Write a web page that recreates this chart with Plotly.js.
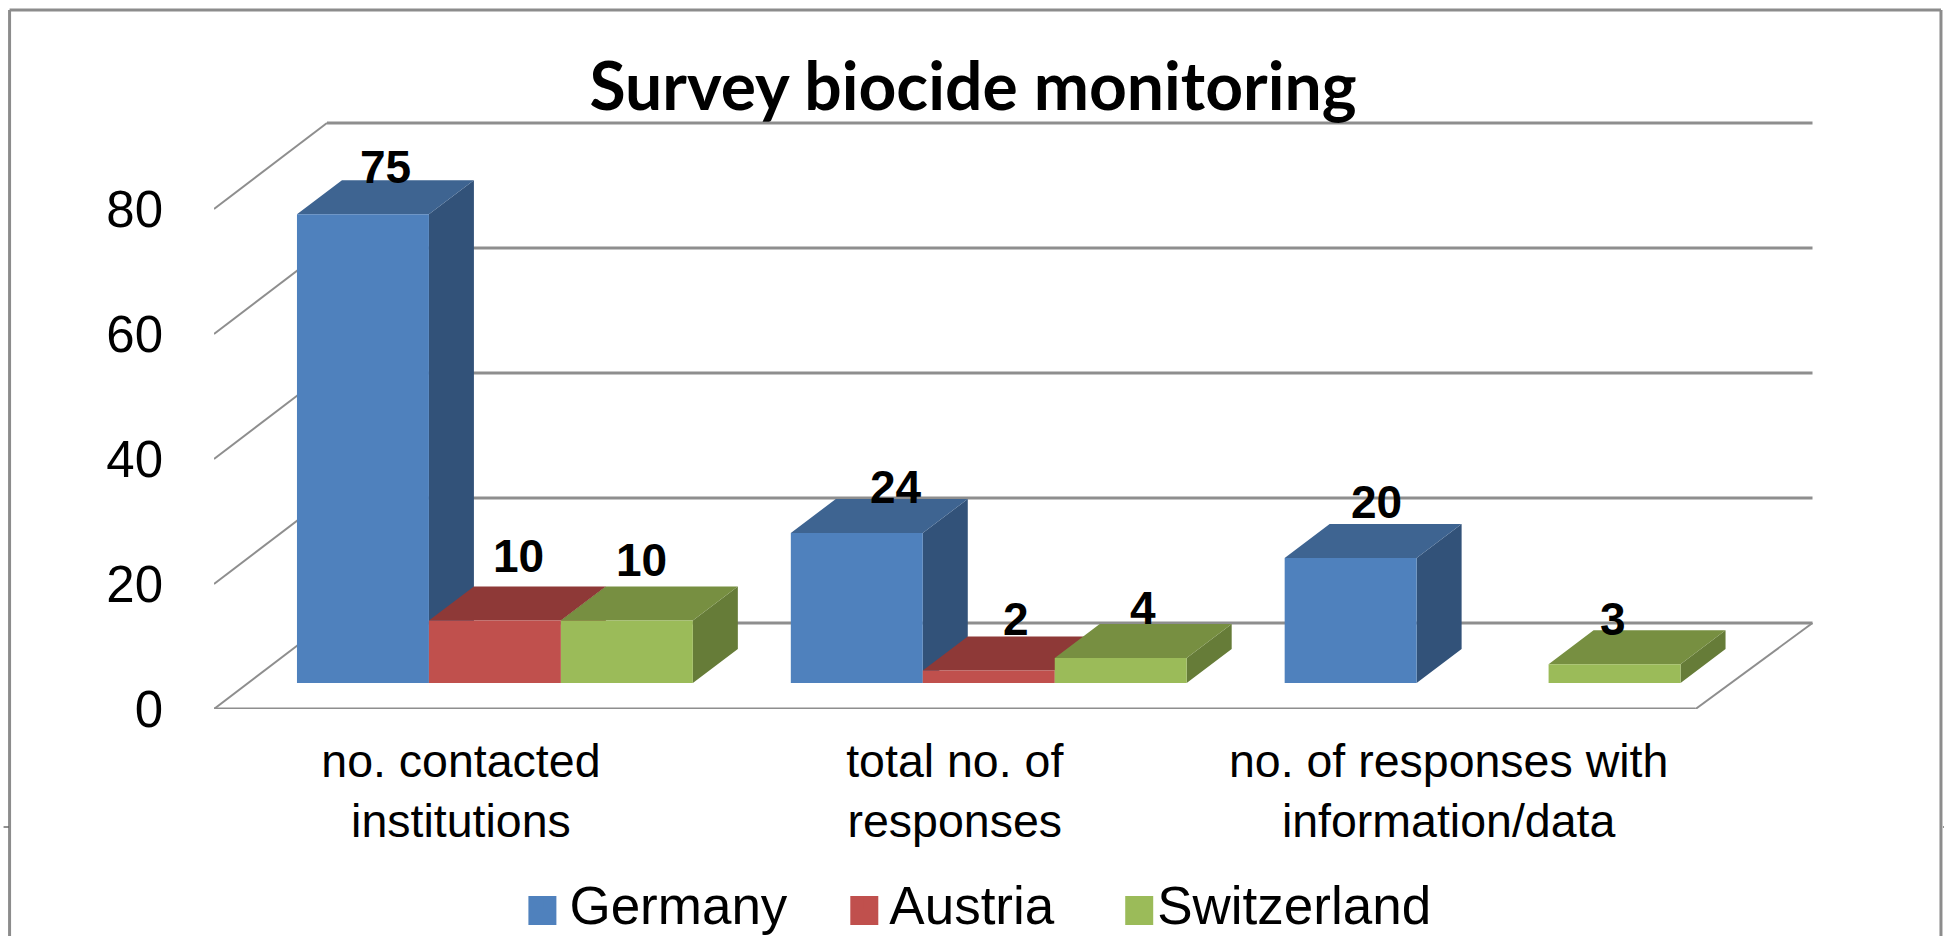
<!DOCTYPE html>
<html><head><meta charset="utf-8">
<script src="https://cdn.plot.ly/plotly-3.0.1.min.js"></script>
<style>html,body{margin:0;padding:0;background:#fff;overflow:hidden}</style>
</head><body><div style="width:1944px;height:936px;overflow:hidden"><div id="chart"></div></div>
<script>
const chartTitle = "Survey biocide monitoring";
const categories = ["no. contacted<br>institutions", "total no. of<br>responses", "no. of responses with<br>information/data"];
const seriesNames = ["Germany", "Austria", "Switzerland"];
const germany = [75, 24, 20];
const austria = [10, 2, null];
const switzerland = [10, 4, 3];
const yTicks = [0, 20, 40, 60, 80];

const frontColors = ["#4f81bd", "#c0504d", "#9bbb59"];
const topColors = ["#3e6491", "#8e3937", "#778f41"];
const sideColors = ["#325279", "#76302e", "#667c38"];
const gridColor = "#8e8e8e";

// Page geometry (pixels). The figure runs past the 936 px page so the legend keeps its full box.
const W = 1944, H = 1010, L = 213.5, R = 1844, T = 100, B = 709;
const catPx = 494, valPx = 6.25;
// Oblique projection: wall depth, bar depth, floor offset of the bars (in axis units)
const wallDx = 113 / catPx, wallEndDx = 117 / catPx, wallDy = 86 / valPx;
const barDx = 45 / catPx, barDy = 34 / valPx;
const floorDx = 34 / catPx, floorDy = 26 / valPx;
const barW = 132 / catPx;
const xMin = -0.5, xMax = xMin + (R - L) / catPx, yMax = (B - T) / valPx;
const xEnd = 2.5;

const px = x => (x - L) / (R - L);
const py = y => (H - y) / (H - T);

const allSeries = [germany, austria, switzerland];
const traces = [];
allSeries.forEach((vals, s) => {
  const xs = vals.map((v, i) => i + floorDx + (s - 1) * barW);
  const tx = [], ty = [], sx = [], sy = [];
  vals.forEach((v, i) => {
    if (v === null) return;
    const x0 = xs[i] - barW / 2, x1 = xs[i] + barW / 2, y0 = floorDy, y1 = floorDy + v;
    tx.push(x0, x1, x1 + barDx, x0 + barDx, x0, null);
    ty.push(y1, y1, y1 + barDy, y1 + barDy, y1, null);
    sx.push(x1, x1 + barDx, x1 + barDx, x1, x1, null);
    sy.push(y0, y0 + barDy, y1 + barDy, y1, y0, null);
  });
  const z = s * 2 + 1;
  traces.push({type: "scatter", mode: "lines", x: sx, y: sy, fill: "toself", fillcolor: sideColors[s],
    line: {width: 0}, showlegend: false, hoverinfo: "skip", zorder: z});
  traces.push({type: "scatter", mode: "lines", x: tx, y: ty, fill: "toself", fillcolor: topColors[s],
    line: {width: 0}, showlegend: false, hoverinfo: "skip", zorder: z});
  traces.push({type: "bar", name: seriesNames[s], x: xs, y: vals, base: floorDy, width: barW,
    marker: {color: frontColors[s], line: {width: 0}}, zorder: z + 1,
    legend: s === 0 ? "legend" : "legend" + (s + 1)});
});

// Walls and floor
const shapes = [];
const line = (x0, y0, x1, y1, w) => shapes.push({type: "line", layer: "below", xref: "x", yref: "y",
  x0, y0, x1, y1, line: {color: gridColor, width: w}});
yTicks.forEach(v => {
  line(xMin, v, xMin + wallDx, v + wallDy, 2);
  line(xMin + wallDx, v + wallDy, xEnd + wallEndDx, v + wallDy, 3);
});
line(xMin, 0, xEnd, 0, 3);
line(xEnd, 0, xEnd + wallEndDx, wallDy, 2);

// Outer frame, open at the bottom edge of the page
const frame = (x0, y0, x1, y1, c, w) => shapes.push({type: "line", layer: "above", xref: "paper", yref: "paper",
  x0: px(x0), y0: py(y0), x1: px(x1), y1: py(y1), line: {color: c, width: w}});
frame(9, 936, 9, 10, "#8c8c8c", 3);
frame(9, 10, 1941, 10, "#8c8c8c", 3);
frame(1941, 10, 1941, 936, "#8c8c8c", 3);
frame(3, 827, 8, 827, "#222", 1);
frame(1943, 827, 1944, 827, "#222", 1);

// Legend swatches
const swatchLeft = [528, 850, 1125];
const textLeft = [569, 889, 1157];
swatchLeft.forEach((x, s) => shapes.push({type: "rect", layer: "above", xref: "paper", yref: "paper",
  x0: px(x), x1: px(x + 28), y0: py(896), y1: py(925), fillcolor: frontColors[s], line: {width: 0}}));

// Data labels
const labelFamily = "Liberation Sans, Arial, sans-serif";
const labelShift = [[[23, 47], [39, 46], [26, 56]], [[24, 65], [27, 52], null], [[15, 61], [22, 50], [-2, 45]]];
const annotations = [];
allSeries.forEach((vals, s) => vals.forEach((v, i) => {
  if (v === null) return;
  annotations.push({xref: "x", yref: "y", x: i + floorDx + (s - 1) * barW, y: floorDy + v, text: "<b>" + v + "</b>",
    showarrow: false, xanchor: "center", yanchor: "middle", xshift: labelShift[s][i][0], yshift: labelShift[s][i][1],
    font: {family: labelFamily, size: 46, color: "#000"}});
}));

const legendFor = s => ({x: px(textLeft[s] - 40), y: py(862), xanchor: "left", yanchor: "top", orientation: "v",
  bgcolor: "rgba(0,0,0,0)", borderwidth: 0, itemwidth: 30, itemclick: false, itemdoubleclick: false,
  font: {family: labelFamily, size: 53, color: "#000"}});

const layout = {
  width: W, height: H, autosize: false,
  margin: {l: L, r: W - R, t: T, b: 0, pad: 0},
  paper_bgcolor: "#fff", plot_bgcolor: "rgba(0,0,0,0)",
  barmode: "overlay", showlegend: true,
  legend: legendFor(0), legend2: legendFor(1), legend3: legendFor(2),
  title: {text: "<b>" + chartTitle + "</b>", x: 973 / W, xanchor: "center", y: 1 - 87 / H, yanchor: "middle",
    font: {family: "Lato, sans-serif", size: 66, color: "#000"}},
  xaxis: {type: "linear", range: [xMin, xMax], tickmode: "array", tickvals: [0, 1, 2], ticktext: categories,
    showgrid: false, zeroline: false, showline: false, ticks: "", ticklabelstandoff: 20, fixedrange: true,
    tickangle: 0, tickfont: {family: labelFamily, size: 46.5, color: "#000"}},
  yaxis: {type: "linear", domain: [py(B), 1], range: [0, yMax], tickmode: "array", tickvals: yTicks, ticktext: yTicks.map(String),
    showgrid: false, zeroline: false, showline: false, ticks: "", ticklabelstandoff: 50, fixedrange: true,
    tickfont: {family: labelFamily, size: 51, color: "#000"}},
  shapes, annotations
};
Plotly.newPlot("chart", traces, layout, {staticPlot: true, displayModeBar: false});
</script></body></html>
